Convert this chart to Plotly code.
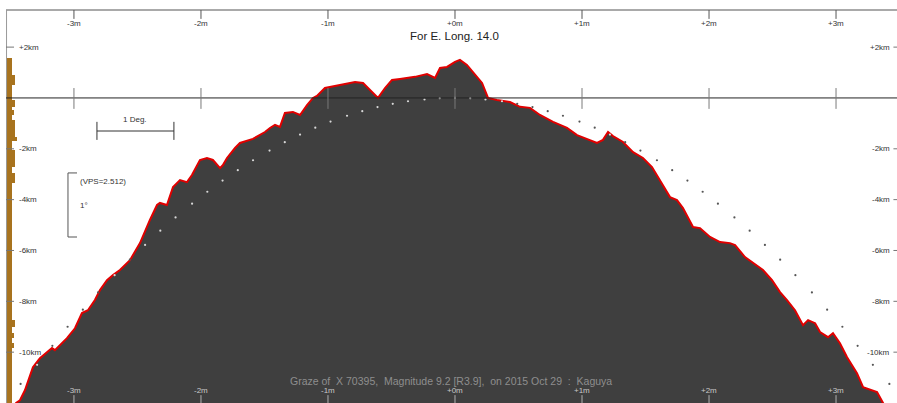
import numpy as np
import plotly.graph_objects as go

# ---------------- data ----------------
# limb profile: minutes of arc (x) vs km (y)
prof_x = [-3.46, -3.425, -3.386, -3.323, -3.268, -3.213, -3.173, -3.150, -3.110, -3.055,
          -2.992, -2.937, -2.890, -2.835, -2.795, -2.740, -2.693, -2.638, -2.559, -2.480,
          -2.402, -2.346, -2.323, -2.268, -2.220, -2.165, -2.110, -2.071, -2.008, -1.953,
          -1.906, -1.850, -1.827, -1.795, -1.732, -1.693, -1.591, -1.535, -1.496, -1.457,
          -1.417, -1.378, -1.339, -1.276, -1.220, -1.165, -1.118, -1.087, -1.024, -0.906,
          -0.787, -0.724, -0.654, -0.606, -0.551, -0.496, -0.433, -0.315, -0.220, -0.157,
          -0.118, -0.063, 0.000, 0.039, 0.094, 0.142, 0.213, 0.260, 0.331, 0.433,
          0.512, 0.591, 0.669, 0.772, 0.882, 0.961, 1.063, 1.118, 1.165, 1.205,
          1.244, 1.323, 1.402, 1.480, 1.551, 1.614, 1.693, 1.748, 1.795, 1.874,
          1.929, 2.008, 2.087, 2.165, 2.205, 2.283, 2.346, 2.425, 2.496, 2.559,
          2.614, 2.677, 2.740, 2.780, 2.835, 2.874, 2.937, 2.976, 3.031, 3.087,
          3.165, 3.213, 3.323, 3.370, 3.41]
prof_y = [-12.01, -11.89, -11.50, -10.59, -10.24, -10.00, -9.84, -9.92, -9.72, -9.45,
          -9.06, -8.46, -8.35, -7.95, -7.56, -7.17, -6.97, -6.77, -6.38, -5.71,
          -4.80, -4.21, -4.13, -4.21, -3.50, -3.23, -3.31, -3.03, -2.44, -2.36,
          -2.44, -2.76, -2.64, -2.36, -1.97, -1.77, -1.61, -1.46, -1.34, -1.18,
          -1.06, -1.14, -0.59, -0.55, -0.67, -0.28, 0.00, 0.08, 0.39, 0.51,
          0.63, 0.59, 0.24, 0.00, 0.39, 0.71, 0.75, 0.83, 0.94, 0.79,
          1.18, 1.22, 1.42, 1.50, 1.30, 1.02, 0.59, 0.00, -0.08, -0.16,
          -0.35, -0.39, -0.67, -0.94, -1.18, -1.46, -1.65, -1.77, -1.65, -1.34,
          -1.50, -1.73, -2.13, -2.36, -2.72, -3.23, -3.90, -4.02, -4.33, -5.08,
          -5.12, -5.47, -5.67, -5.71, -5.79, -6.26, -6.50, -6.77, -7.17, -7.64,
          -7.95, -8.35, -8.94, -8.74, -8.86, -9.21, -9.41, -9.25, -9.65, -10.20,
          -10.83, -11.38, -11.57, -11.97, -12.36]

# mean limb (dotted)
dot_x = [-3.42, -3.29, -3.17, -3.05, -2.93, -2.81, -2.68, -2.56, -2.44, -2.32, -2.20, -2.07,
         -1.95, -1.83, -1.71, -1.59, -1.46, -1.34, -1.22, -1.10, -0.98, -0.85, -0.73, -0.61,
         -0.49, -0.37, -0.24, -0.12, 0.00, 0.12, 0.24, 0.37, 0.49, 0.61, 0.73, 0.85, 0.98,
         1.10, 1.22, 1.34, 1.46, 1.59, 1.71, 1.83, 1.95, 2.07, 2.20, 2.32, 2.44, 2.56, 2.68,
         2.81, 2.93, 3.05, 3.17, 3.29, 3.42]
dot_y = [-11.25, -10.5, -9.75, -9.0, -8.33, -7.65, -6.97, -6.36, -5.78, -5.22, -4.70, -4.16,
         -3.69, -3.25, -2.84, -2.45, -2.07, -1.74, -1.44, -1.17, -0.93, -0.70, -0.52, -0.36,
         -0.23, -0.13, -0.06, -0.01, 0.0, -0.01, -0.06, -0.13, -0.23, -0.36, -0.52, -0.70, -0.93,
         -1.17, -1.44, -1.74, -2.07, -2.45, -2.84, -3.25, -3.69, -4.16, -4.70, -5.22, -5.78,
         -6.36, -6.97, -7.65, -8.33, -9.0, -9.75, -10.5, -11.25]

# left-edge histogram bars (km band top, band bottom, length)
hist_top = [1.57, 0.91, 0.51, -0.08, -0.35, -0.47, -0.67, -0.87, -1.54, -1.69, -2.05, -2.72,
            -2.95, -3.35, -8.74, -9.02, -9.25, -9.45, -9.65, -9.84]
hist_bot = [0.91, 0.51, -0.08, -0.35, -0.47, -0.67, -0.87, -1.54, -1.69, -2.05, -2.72, -2.95,
            -3.35, -8.74, -9.02, -9.25, -9.45, -9.65, -9.84, -12.2]
hist_len = [1.2, 1.7, 1.2, 1.7, 1.2, 1.6, 1.2, 1.7, 2.1, 1.2, 1.7, 1.2,
            1.7, 1.2, 1.7, 1.2, 1.6, 1.2, 1.6, 1.2]

x_ticks = [-3, -2, -1, 0, 1, 2, 3]
x_labels = ["-3m", "-2m", "-1m", "+0m", "+1m", "+2m", "+3m"]
y_ticks = [2, -2, -4, -6, -8, -10]
y_labels = ["+2km", "-2km", "-4km", "-6km", "-8km", "-10km"]

title_text = "For E. Long. 14.0"
footer_text = "Graze of  X 70395,  Magnitude 9.2 [R3.9],  on 2015 Oct 29  :  Kaguya"

# ---------------- figure ----------------
XR = [-3.535, 3.48]
YR = [-12.0, 3.46]
FONT = "Liberation Sans, Arial, sans-serif"
FILL = "#3f3f3f"

fig = go.Figure()

# filled moon profile
fx = prof_x + [prof_x[-1], prof_x[0]]
fy = prof_y + [-14, -14]
fig.add_trace(go.Scatter(x=fx, y=fy, fill="toself", fillcolor=FILL, mode="lines",
                         line=dict(width=0, color=FILL), hoverinfo="skip", showlegend=False))
fig.add_trace(go.Scatter(x=prof_x, y=prof_y, mode="lines",
                         line=dict(color="#e00000", width=2), showlegend=False))

# mean limb dots (light inside the profile, dark outside)
prof_at_dots = np.interp(dot_x, prof_x, prof_y)
dot_cols = ["#d8d8d8" if dy < py else "#555555" for dy, py in zip(dot_y, prof_at_dots)]
fig.add_trace(go.Scatter(x=dot_x, y=dot_y, mode="markers",
                         marker=dict(size=2.2, color=dot_cols, line=dict(width=0)),
                         showlegend=False))

# histogram bars on the left edge
h_c = [(a + b) / 2 for a, b in zip(hist_top, hist_bot)]
h_w = [a - b for a, b in zip(hist_top, hist_bot)]
fig.add_trace(go.Bar(y=h_c, x=hist_len, width=h_w, orientation="h", xaxis="x2",
                     marker=dict(color="#a8731e", line=dict(width=0)), showlegend=False))

shapes = []
ann = []
# frame lines
shapes.append(dict(type="line", xref="paper", yref="paper", x0=0, x1=1, y0=1, y1=1,
                   line=dict(color="#555555", width=1)))
shapes.append(dict(type="line", xref="paper", yref="paper", x0=0.0006, x1=0.0006, y0=0, y1=1,
                   line=dict(color="#999999", width=1)))
# zero line
shapes.append(dict(type="line", xref="paper", yref="y", x0=0, x1=1, y0=0, y1=0,
                   line=dict(color="#222222", width=1)))

for xv, lab in zip(x_ticks, x_labels):
    # top ticks
    shapes.append(dict(type="line", xref="x", yref="y", x0=xv, x1=xv, y0=YR[1], y1=3.11,
                       line=dict(color="#555555", width=1)))
    ann.append(dict(x=xv, y=2.91, xref="x", yref="y", text=lab, showarrow=False,
                    font=dict(family=FONT, size=8, color="#333333"),
                    xanchor="center", yanchor="middle"))
    # ticks across the zero line
    shapes.append(dict(type="line", xref="x", yref="y", x0=xv, x1=xv, y0=0.39, y1=-0.43,
                       line=dict(color="#7a7a7a", width=1)))
    # bottom ticks
    shapes.append(dict(type="line", xref="x", yref="y", x0=xv, x1=xv, y0=-11.69, y1=YR[0],
                       line=dict(color="#b0b0b0", width=1)))
    ann.append(dict(x=xv, y=-11.52, xref="x", yref="y", text=lab, showarrow=False,
                    font=dict(family=FONT, size=8, color="#c8c8c8"),
                    xanchor="center", yanchor="middle"))

for yv, lab in zip(y_ticks, y_labels):
    shapes.append(dict(type="line", xref="paper", yref="y", x0=0, x1=0.009, y0=yv, y1=yv,
                       line=dict(color="#777777", width=1)))
    shapes.append(dict(type="line", xref="paper", yref="y", x0=0.996, x1=1, y0=yv, y1=yv,
                       line=dict(color="#777777", width=1)))
    ann.append(dict(x=0.0125, y=yv, xref="paper", yref="y", text=lab, showarrow=False,
                    font=dict(family=FONT, size=8, color="#333333"),
                    xanchor="left", yanchor="middle"))
    ann.append(dict(x=0.9945, y=yv, xref="paper", yref="y", text=lab, showarrow=False,
                    font=dict(family=FONT, size=8, color="#333333"),
                    xanchor="right", yanchor="middle"))

# 1 Deg. scale bar
for s in [dict(x0=-2.819, x1=-2.213, y0=-1.30, y1=-1.30),
          dict(x0=-2.819, x1=-2.819, y0=-0.94, y1=-1.65),
          dict(x0=-2.213, x1=-2.213, y0=-0.94, y1=-1.65)]:
    shapes.append(dict(type="line", xref="x", yref="y", line=dict(color="#333333", width=1), **s))
ann.append(dict(x=-2.516, y=-0.83, xref="x", yref="y", text="1 Deg.", showarrow=False,
                font=dict(family=FONT, size=8, color="#333333"), xanchor="center", yanchor="middle"))

# VPS bracket
for s in [dict(x0=-3.047, x1=-3.047, y0=-2.95, y1=-5.47),
          dict(x0=-3.047, x1=-2.976, y0=-2.95, y1=-2.95),
          dict(x0=-3.047, x1=-2.976, y0=-5.47, y1=-5.47)]:
    shapes.append(dict(type="line", xref="x", yref="y", line=dict(color="#555555", width=1), **s))
ann.append(dict(x=-2.969, y=-3.27, xref="x", yref="y", text="(VPS=2.512)", showarrow=False,
                font=dict(family=FONT, size=8, color="#333333"), xanchor="left", yanchor="middle"))
ann.append(dict(x=-2.969, y=-4.25, xref="x", yref="y", text="1°", showarrow=False,
                font=dict(family=FONT, size=8, color="#333333"), xanchor="left", yanchor="middle"))

# title and footer
ann.append(dict(x=0, y=2.44, xref="x", yref="y", text=title_text, showarrow=False,
                font=dict(family=FONT, size=11.5, color="#222222"), xanchor="center", yanchor="middle"))
ann.append(dict(x=-0.03, y=-11.14, xref="x", yref="y", text=footer_text, showarrow=False,
                font=dict(family=FONT, size=10.5, color="#8e8e8e"), xanchor="center", yanchor="middle"))

fig.update_layout(
    width=897, height=403, autosize=False,
    margin=dict(l=6, r=0, t=10, b=0),
    paper_bgcolor="white", plot_bgcolor="white",
    xaxis=dict(range=XR, visible=False, showgrid=False, zeroline=False, fixedrange=True),
    xaxis2=dict(range=[0, 178.2], overlaying="x", anchor="y", visible=False, showgrid=False,
                zeroline=False),
    yaxis=dict(range=YR, visible=False, showgrid=False, zeroline=False),
    shapes=shapes, annotations=ann, bargap=0, showlegend=False,
)

fig.write_html("out.html", config={"displayModeBar": False},
               post_script="document.body.style.margin='0';document.body.style.overflow='hidden';")
